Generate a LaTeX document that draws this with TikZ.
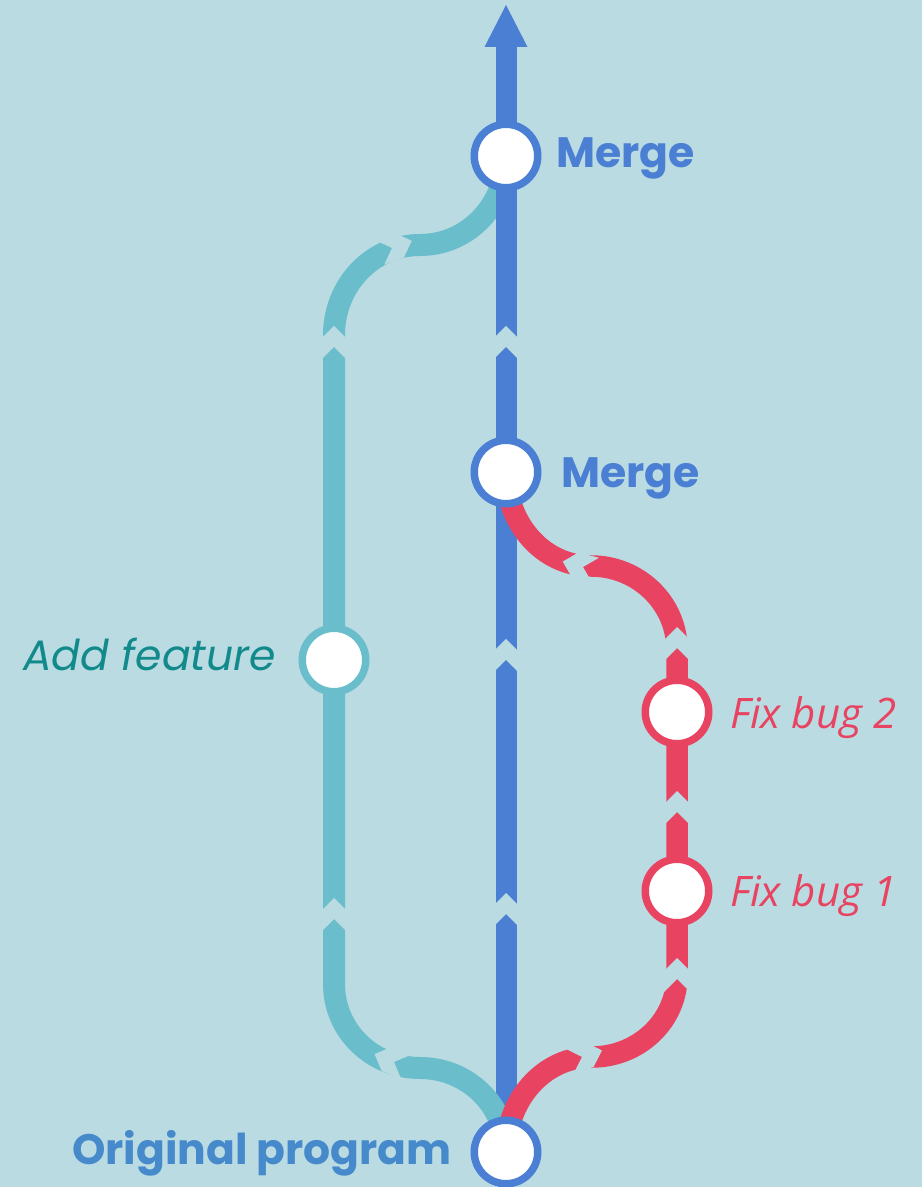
\documentclass[tikz,border=0pt]{standalone}
\usepackage{fontspec}
\newfontfamily\pop{Poppins}
\newfontfamily\opensans{Open Sans}
\usetikzlibrary{calc}
\definecolor{bgc}{RGB}{185,219,225}
\definecolor{lblue}{RGB}{74,127,212}
\definecolor{lteal}{RGB}{106,190,203}
\definecolor{lred}{RGB}{233,67,98}
\definecolor{tealtext}{RGB}{18,138,140}
\definecolor{origtext}{RGB}{70,138,204}
\pgfdeclarelayer{paper}
\pgfdeclarelayer{lines}
\pgfsetlayers{paper,lines,main}
\tikzset{
  ring/.style={circle, draw=#1, line width=7.5pt, fill=white, minimum size=63.5pt, inner sep=0pt},
  mainline/.style={draw=lblue, line width=21pt},
  featline/.style={draw=lteal, line width=22pt},
  fixline/.style={draw=lred, line width=21.5pt},
  boldlbl/.style={font=\pop\bfseries\fontsize{42.5}{50}\selectfont, inner sep=0pt},
  featlbl/.style={font=\pop\itshape\fontsize{42.5}{50}\selectfont, inner sep=0pt, text=tealtext},
  fixlbl/.style={font=\opensans\itshape\fontsize{42}{50}\selectfont, inner sep=0pt, text=lred},
  cutmark/.pic={\fill[bgc] (-13,13) -- (0,0) -- (-13,-13) -- (8,-13) -- (21,0) -- (8,13) -- cycle;}
}
\begin{document}
\begin{tikzpicture}[x=1pt,y=1pt]
\begin{pgfonlayer}{paper}
  \fill[bgc] (0,0) rectangle (922,1187);
\end{pgfonlayer}
\useasboundingbox (0,0) rectangle (922,1187);

% commits
\node[ring=lblue] (orig)   at (506,35)  {};
\node[ring=lblue] (merge2) at (506,715) {};
\node[ring=lblue] (merge1) at (506,1031) {};
\node[ring=lteal] (addf)   at (334,527) {};
\node[ring=lred]  (fix1)   at (677,296) {};
\node[ring=lred]  (fix2)   at (677,475) {};

% bends of the branches
\coordinate (tj)  at (420,119);
\coordinate (tb)  at (334,203);
\coordinate (tt)  at (334,852);
\coordinate (tj2) at (420,942);
\coordinate (rj)  at (592,130);
\coordinate (rb)  at (677,212);
\coordinate (rt)  at (677,537);
\coordinate (rj2) at (591,621);
\coordinate (tip) at (506,1182);

% labels
\node[boldlbl, text=lblue, anchor=base west] (m1lbl) at (556,1019) {Merge};
\node[boldlbl, text=lblue, anchor=base west] (m2lbl) at (561,699) {Merge};
\node[boldlbl, text=origtext, anchor=base east] (olbl) at (452,23) {Original program};
\node[featlbl, anchor=base east] (albl) at (276,516) {Add feature};
\node[fixlbl, anchor=base west] (f2lbl) at (730,458) {Fix bug 2};
\node[fixlbl, anchor=base west] (f1lbl) at (730,280) {Fix bug 1};

\begin{pgfonlayer}{lines}
  % main line, lower part (the branches start on top of it)
  \draw[mainline] (orig.center) -- (merge2.center);
  % feature branch
  \draw[featline] (orig.center) to[out=90,in=0] (tj) to[out=180,in=270] (tb)
    -- (addf.center) -- (tt) to[out=90,in=180] (tj2) to[out=0,in=270] (merge1.center);
  % bug-fix branch
  \draw[fixline] (orig.center) to[out=90,in=180] (rj) to[out=0,in=270] (rb)
    -- (fix1.center) -- (fix2.center) -- (rt) to[out=90,in=0] (rj2) to[out=180,in=270] (merge2.center);
  % main line, upper part with arrow head
  \draw[mainline] (merge2.center) -- ([yshift=-40pt]tip);
  \fill[lblue] (tip) -- ++(-21.5,-42) -- ++(43,0) -- cycle;
  % breaks between the arrow pieces
  \pic[rotate=90] at (506,273) {cutmark};
  \pic[rotate=90] at (506,527) {cutmark};
  \pic[rotate=90] at (506,840) {cutmark};
  \pic[rotate=90] at (334,268) {cutmark};
  \pic[rotate=90] at (334,840) {cutmark};
  \pic[rotate=158] at (394,125) {cutmark};
  \pic[rotate=20] at (392,939) {cutmark};
  \pic[rotate=90] at (677,208) {cutmark};
  \pic[rotate=90] at (677,375) {cutmark};
  \pic[rotate=90] at (677,539) {cutmark};
  \pic[rotate=18] at (582,130) {cutmark};
  \pic[rotate=165] at (583,620) {cutmark};
\end{pgfonlayer}
\end{tikzpicture}
\end{document}
